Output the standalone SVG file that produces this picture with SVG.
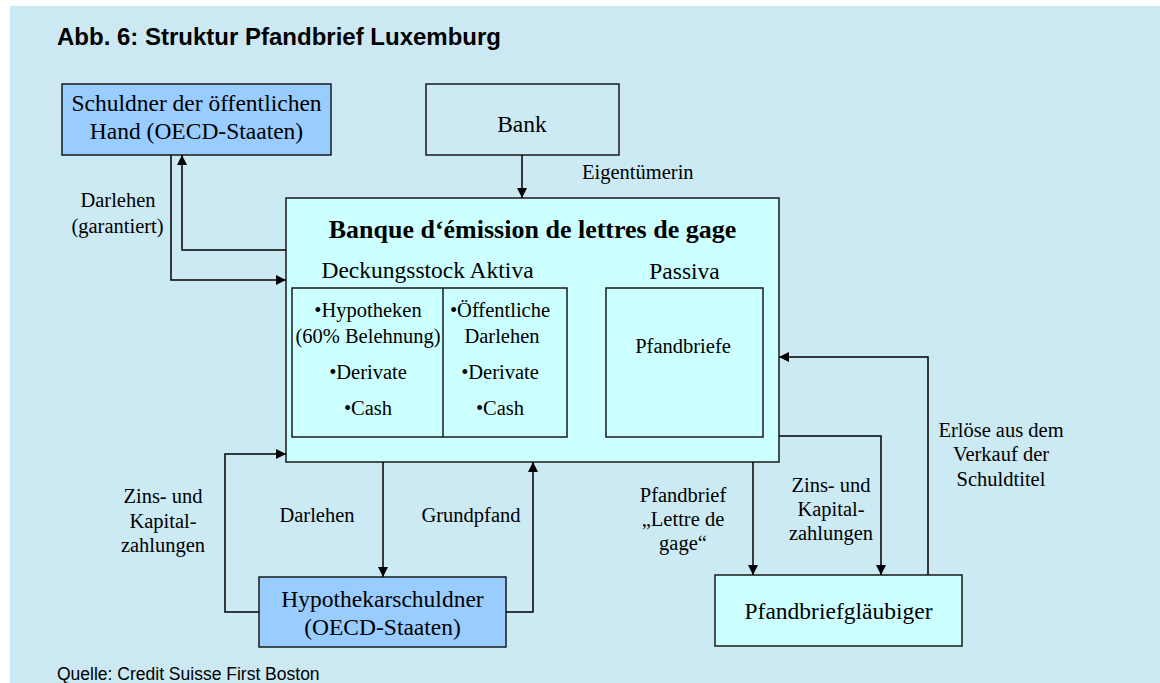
<svg xmlns="http://www.w3.org/2000/svg" width="1160" height="683" viewBox="0 0 1160 683">
<style>
.box{stroke:#1a1a1a;stroke-width:1.5}
.blue{fill:#99CCFF}
.cyan{fill:#CCFFFF}
.plain{fill:none}
.t{font-family:"Liberation Serif","Times New Roman",serif;fill:#000;text-anchor:middle}
.big{font-size:23.5px}
.lbl{font-size:20.5px}
.ttl{font-size:26px;font-weight:bold}
.con{fill:none;stroke:#000;stroke-width:1.5}
.sans{font-family:"Liberation Sans",Arial,sans-serif;fill:#000}
</style>
<defs>
<marker id="ah" markerUnits="userSpaceOnUse" markerWidth="10" markerHeight="10" refX="10" refY="5" orient="auto">
<path d="M0,0 L10,5 L0,10 z" fill="#000"/>
</marker>
</defs>
<rect x="0" y="0" width="1160" height="683" fill="#fff"/>
<rect x="10" y="6" width="1150" height="677" fill="#CBE8F3"/>
<rect x="55" y="83" width="1055" height="565" fill="#CCEAF4"/>
<text class="sans" x="57" y="45" font-size="24" font-weight="bold">Abb. 6: Struktur Pfandbrief Luxemburg</text>
<text class="sans" x="57" y="680" font-size="17.5">Quelle: Credit Suisse First Boston</text>

<g id="schuldner">
<rect class="box blue" x="62" y="84" width="269" height="71"/>
<text class="t big" x="196.5" y="111">Schuldner der öffentlichen</text>
<text class="t big" x="196.5" y="139">Hand (OECD-Staaten)</text>
</g>
<g id="bank">
<rect class="box plain" x="426" y="84" width="193" height="71"/>
<text class="t big" x="522" y="132">Bank</text>
</g>
<g id="banque">
<rect class="box cyan" x="286" y="198" width="493" height="264"/>
<text class="t ttl" x="532.5" y="238">Banque d‘émission de lettres de gage</text>
<text class="t big" x="427.5" y="278">Deckungsstock Aktiva</text>
<text class="t big" x="684.5" y="279">Passiva</text>
</g>
<g id="aktiva">
<rect class="box plain" x="292" y="288" width="275" height="149"/>
<line x1="443" y1="288" x2="443" y2="437" stroke="#1a1a1a" stroke-width="1.5"/>
<text class="t lbl" x="368" y="317">•Hypotheken</text>
<text class="t lbl" x="368" y="343">(60% Belehnung)</text>
<text class="t lbl" x="368" y="379">•Derivate</text>
<text class="t lbl" x="368" y="415">•Cash</text>
<text class="t lbl" x="500" y="317">•Öffentliche</text>
<text class="t lbl" x="502" y="343">Darlehen</text>
<text class="t lbl" x="500" y="379">•Derivate</text>
<text class="t lbl" x="500" y="415">•Cash</text>
</g>
<g id="passiva">
<rect class="box plain" x="606" y="288" width="157" height="149"/>
<text class="t lbl" x="683" y="353">Pfandbriefe</text>
</g>
<g id="hypothekarschuldner">
<rect class="box blue" x="259" y="577" width="247" height="70"/>
<text class="t big" x="382.5" y="607">Hypothekarschuldner</text>
<text class="t big" x="382.5" y="635">(OECD-Staaten)</text>
</g>
<g id="glaeubiger">
<rect class="box cyan" x="715" y="575" width="247" height="71"/>
<text class="t big" x="838.5" y="619">Pfandbriefgläubiger</text>
</g>

<g id="connectors">
<path class="con" d="M522,155 V198" marker-end="url(#ah)"/>
<path class="con" d="M286,250 H182 V155" marker-end="url(#ah)"/>
<path class="con" d="M171,155 V280 H286" marker-end="url(#ah)"/>
<path class="con" d="M259,612 H225 V454 H286" marker-end="url(#ah)"/>
<path class="con" d="M383,462 V577" marker-end="url(#ah)"/>
<path class="con" d="M506,612 H533 V462" marker-end="url(#ah)"/>
<path class="con" d="M753,462 V575" marker-end="url(#ah)"/>
<path class="con" d="M779,436 H881 V575" marker-end="url(#ah)"/>
<path class="con" d="M928,575 V357 H779" marker-end="url(#ah)"/>
</g>

<g id="labels">
<text class="t lbl" x="582" y="179" text-anchor="start" style="text-anchor:start">Eigentümerin</text>
<text class="t lbl" x="118" y="207">Darlehen</text>
<text class="t lbl" x="117.5" y="233">(garantiert)</text>
<text class="t lbl" x="163" y="503">Zins- und</text>
<text class="t lbl" x="163" y="528">Kapital-</text>
<text class="t lbl" x="163" y="552">zahlungen</text>
<text class="t lbl" x="317" y="522">Darlehen</text>
<text class="t lbl" x="471" y="522">Grundpfand</text>
<text class="t lbl" x="683" y="502">Pfandbrief</text>
<text class="t lbl" x="683" y="526">„Lettre de</text>
<text class="t lbl" x="683" y="550">gage“</text>
<text class="t lbl" x="831" y="492">Zins- und</text>
<text class="t lbl" x="831" y="516">Kapital-</text>
<text class="t lbl" x="831" y="540">zahlungen</text>
<text class="t lbl" x="1001" y="437">Erlöse aus dem</text>
<text class="t lbl" x="1001" y="461">Verkauf der</text>
<text class="t lbl" x="1001" y="486">Schuldtitel</text>
</g>
</svg>
